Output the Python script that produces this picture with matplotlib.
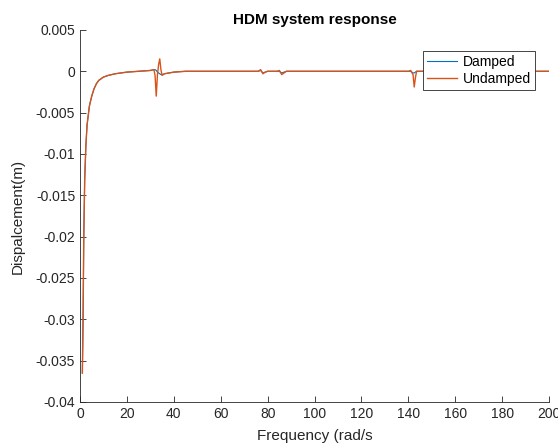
import matplotlib
matplotlib.use("Agg")
import matplotlib.pyplot as plt

# frequency points (rad/s) and displacement (m)
freq = [1, 1.3, 1.6, 2, 2.5, 3, 4, 5, 6, 7, 8, 10, 12, 15, 20, 25, 30,
        31.5, 32, 32.5, 33, 33.5, 34, 34.5, 35, 36, 38, 40, 45, 50, 60, 70,
        76, 77, 78, 79, 80, 84, 85, 86, 87, 88, 100, 120, 140,
        141, 142, 142.5, 143, 143.5, 144, 160, 180, 200]

undamped = [-0.0365, -0.030, -0.020, -0.013, -0.009, -0.0065, -0.0042, -0.003,
            -0.0021, -0.0015, -0.0011, -0.0007, -0.0005, -0.0003, -0.0001, 0.0, 0.0001,
            0.0002, -0.0005, -0.0030, -0.0005, 0.0008, 0.0015, 0.0002, -0.0005,
            -0.0003, -0.0002, -0.0001, 0.0, 0.0, 0.0, 0.0,
            0.0, 0.0002, -0.0003, -0.0001, 0.0, 0.0, 0.0001, -0.0004, -0.0002, 0.0,
            0.0, 0.0, 0.0,
            0.0001, -0.0004, -0.0019, -0.0008, 0.0, 0.0, 0.0, 0.0, 0.0]

damped = [-0.0365, -0.030, -0.020, -0.013, -0.009, -0.0065, -0.0042, -0.003,
          -0.0021, -0.0015, -0.0011, -0.0007, -0.0005, -0.0003, -0.0001, 0.0, 0.0001,
          0.0002, 0.0002, 0.0001, -0.0001, -0.0002, -0.0003, -0.0004, -0.0004,
          -0.0003, -0.0002, -0.0001, 0.0, 0.0, 0.0, 0.0,
          0.0, 0.0001, -0.0002, -0.0001, 0.0, 0.0, 0.0, -0.0002, -0.0001, 0.0,
          0.0, 0.0, 0.0,
          0.0, -0.0002, -0.0002, -0.0001, 0.0, 0.0, 0.0, 0.0, 0.0]

plt.rcParams['font.family'] = ['Liberation Sans', 'DejaVu Sans']

fig = plt.figure(figsize=(5.58, 4.47), dpi=100)
ax = fig.add_axes([0.1434, 0.1007, 0.8406, 0.8323])

ax.plot(freq, damped, color='#0072BD', linewidth=0.8, label='Damped')
ax.plot(freq, undamped, color='#D95319', linewidth=1.0, label='Undamped')

ax.set_xlim(0, 200)
ax.set_ylim(-0.04, 0.005)
ax.set_xticks(range(0, 201, 20))
yt = [-0.04, -0.035, -0.03, -0.025, -0.02, -0.015, -0.01, -0.005, 0, 0.005]
ax.set_yticks(yt)
ax.set_yticklabels(['-0.04', '-0.035', '-0.03', '-0.025', '-0.02', '-0.015',
                    '-0.01', '-0.005', '0', '0.005'])

for s in ['top', 'right']:
    ax.spines[s].set_visible(False)
for s in ['left', 'bottom']:
    ax.spines[s].set_color('#262626')
    ax.spines[s].set_linewidth(0.6)
ax.tick_params(direction='in', length=4, width=0.6, colors='#262626', labelsize=10)

ax.set_title('HDM system response', fontsize=11, fontweight='bold', color='black', pad=4)
ax.set_xlabel('Frequency (rad/s', fontsize=11, color='#262626', labelpad=6)
ax.set_ylabel('Dispalcement(m)', fontsize=11, color='#262626', labelpad=8)

leg = ax.legend(loc='upper right', bbox_to_anchor=(0.985, 0.962), fontsize=10,
                fancybox=False, framealpha=1, edgecolor='#262626',
                borderpad=0.3, handlelength=2.2, labelspacing=0.2, handletextpad=0.4)
leg.get_frame().set_linewidth(0.6)

fig.savefig('out.png', dpi=100)
